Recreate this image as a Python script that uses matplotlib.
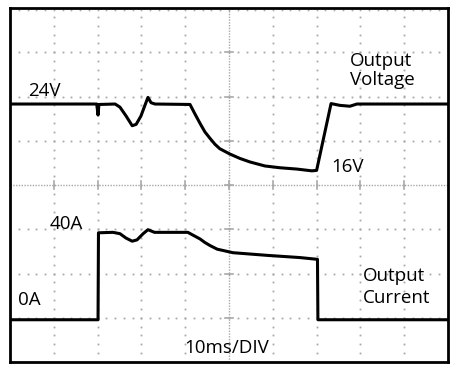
import numpy as np
import matplotlib
matplotlib.use("Agg")
import matplotlib.pyplot as plt

# ---- data (time in ms, 10 ms/div; values in screen divisions) ----
v_time = [0, 19.8, 20.1, 20.3, 24.0, 25.1, 26.5, 27.9, 28.8, 29.9, 30.8, 31.5, 32.2, 33.1,
          41.1, 42.2, 43.4, 44.5, 45.7, 46.8, 47.9, 50.2, 52.5, 54.8, 58.2, 61.6, 65.5,
          68.9, 70.0, 73.3, 75.3, 77.6, 79.2, 100]
v_level = [5.83, 5.83, 5.58, 5.82, 5.83, 5.76, 5.56, 5.34, 5.37, 5.56, 5.80, 5.98, 5.86, 5.83,
           5.82, 5.61, 5.39, 5.20, 5.05, 4.92, 4.82, 4.70, 4.60, 4.52, 4.43, 4.39, 4.36,
           4.32, 4.33, 5.84, 5.80, 5.78, 5.83, 5.83]

i_time = [0, 20.1, 20.2, 23.5, 25.1, 26.5, 27.9, 29.0, 30.4, 31.5, 33.0, 40.6, 43.4, 44.5,
          45.7, 47.3, 49.1, 50.9, 54.8, 58.7, 66.2, 70.2, 70.3, 100]
i_level = [0.955, 0.955, 2.92, 2.93, 2.90, 2.80, 2.73, 2.76, 2.90, 2.99, 2.93, 2.93, 2.78, 2.70,
           2.63, 2.55, 2.51, 2.47, 2.44, 2.41, 2.36, 2.32, 0.955, 0.955]

labels = ["24V", "Output", "Voltage", "16V", "40A", "0A", "Output", "Current", "10ms/DIV"]
label_x = [4.1, 77.6, 77.6, 73.4, 9.1, 1.9, 80.5, 80.5, 39.8]
label_y = [6.00, 6.70, 6.25, 4.29, 3.00, 1.28, 1.825, 1.33, 0.20]

plt.rcParams['font.family'] = ['Open Sans', 'DejaVu Sans']

fig = plt.figure(figsize=(4.54, 3.70), dpi=100)
ax = fig.add_axes([10/454, 8/370, 438/454, 354/370])
ax.set_xlim(0, 100)
ax.set_ylim(0, 8)
ax.set_xticks([]); ax.set_yticks([])
for s in ax.spines.values():
    s.set_linewidth(2)
    s.set_color('black')

grid_c = '#a8a8a8'
# dotted grid
for gx in range(10, 100, 10):
    if gx == 50:
        continue
    ys = np.arange(0.2, 8.0, 0.2)
    ax.plot([gx]*len(ys), ys, ls='none', marker='s', ms=1.3, mew=0, color=grid_c, zorder=1)
for gy in range(1, 8):
    if gy == 4:
        continue
    xs = np.arange(2, 100, 2)
    ax.plot(xs, [gy]*len(xs), ls='none', marker='s', ms=1.3, mew=0, color=grid_c, zorder=1)
# center crosshair
ax.axvline(50, color=grid_c, lw=1, ls=(0, (1, 1)), zorder=1)
ax.axhline(4, color=grid_c, lw=1, ls=(0, (1, 1)), zorder=1)
for gx in range(10, 100, 10):
    ax.plot([gx, gx], [3.92, 4.08], color=grid_c, lw=1.2, zorder=1)
for gy in range(1, 8):
    ax.plot([49.0, 51.0], [gy, gy], color=grid_c, lw=1.2, zorder=1)
# top border minor dots
xs = np.arange(2, 100, 2)
ax.plot(xs, [7.95]*len(xs), ls='none', marker='s', ms=1.2, mew=0, color=grid_c, zorder=1)

# traces
ax.plot(v_time, v_level, color='black', lw=2.2, zorder=3, solid_joinstyle='round')
ax.plot(i_time, i_level, color='black', lw=2.2, zorder=3, solid_joinstyle='round')

for t, x, y in zip(labels, label_x, label_y):
    ax.text(x, y, t, fontsize=13.5, ha='left', va='baseline', color='black', zorder=4)

fig.savefig('out.png', dpi=100)
